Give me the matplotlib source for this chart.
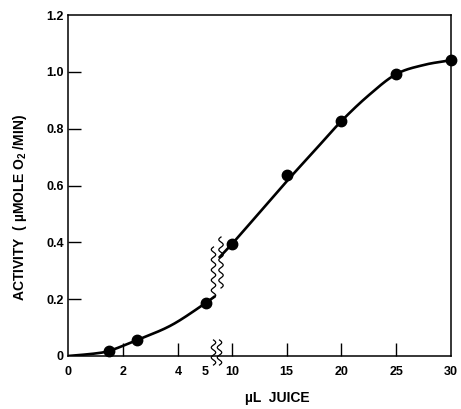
import numpy as np
import matplotlib
matplotlib.use('Agg')
import matplotlib.pyplot as plt

# --- data ---
juice_ul = [1.5, 2.5, 5, 10, 15, 20, 25, 30]
activity = [0.018, 0.056, 0.186, 0.394, 0.637, 0.827, 0.992, 1.041]

# hand-drawn smooth curve, two pieces either side of the axis break
curve_left_x = [0, 1, 1.5, 2.5, 3.75, 5, 5.35]
curve_left_y = [0, 0.009, 0.018, 0.056, 0.108, 0.186, 0.211]
curve_right_x = [8.8, 10, 15, 17.5, 20, 22.5, 25, 27.5, 30]
curve_right_y = [0.345, 0.394, 0.615, 0.721, 0.827, 0.918, 0.992, 1.024, 1.041]

xticks = [0, 2, 4, 5, 10, 15, 20, 25, 30]
xtick_labels = ['0', '2', '4', '5', '10', '15', '20', '25', '30']
yticks = [0, 0.2, 0.4, 0.6, 0.8, 1.0, 1.2]
ytick_labels = ['0', '0.2', '0.4', '0.6', '0.8', '1.0', '1.2']


# broken x axis: 0-5 stretched, 10-30 compressed
def fwd(x):
    x = np.asarray(x, dtype=float)
    return np.where(x <= 5.4, x,
                    np.where(x >= 8.8, 5.96 + (x - 10) * 0.398,
                             5.4 + (x - 5.4) * (0.082 / 3.4)))


def inv(u):
    u = np.asarray(u, dtype=float)
    return np.where(u <= 5.4, u,
                    np.where(u >= 5.482, 10 + (u - 5.96) / 0.398,
                             5.4 + (u - 5.4) * (3.4 / 0.082)))


def smooth(xk, yk, n=250):
    # cubic hermite through the knots, catmull-rom style slopes
    xk = np.asarray(xk, float)
    yk = np.asarray(yk, float)
    h = np.diff(xk)
    m = np.empty_like(yk)
    m[1:-1] = (yk[2:] - yk[:-2]) / (xk[2:] - xk[:-2])
    m[0] = (yk[1] - yk[0]) / h[0]
    m[-1] = (yk[-1] - yk[-2]) / h[-1]
    xs = np.linspace(xk[0], xk[-1], n)
    idx = np.clip(np.searchsorted(xk, xs) - 1, 0, len(h) - 1)
    t = (xs - xk[idx]) / h[idx]
    ys = ((2 * t**3 - 3 * t**2 + 1) * yk[idx] + (t**3 - 2 * t**2 + t) * h[idx] * m[idx]
          + (-2 * t**3 + 3 * t**2) * yk[idx + 1] + (t**3 - t**2) * h[idx] * m[idx + 1])
    return xs, ys


plt.rcParams['font.family'] = ['Liberation Sans', 'DejaVu Sans']
plt.rcParams['font.weight'] = 'bold'
plt.rcParams['mathtext.fontset'] = 'custom'
plt.rcParams['mathtext.bf'] = 'Liberation Sans:bold'
plt.rcParams['mathtext.rm'] = 'Liberation Sans:bold'

W, H = 461, 409
fig = plt.figure(figsize=(W / 100, H / 100), dpi=100)
ax = fig.add_axes([68 / W, (H - 356) / H, 383 / W, 341 / H])
ax.set_xscale('function', functions=(fwd, inv))
ax.set_xlim(0, 30)
ax.set_ylim(0, 1.2)

xl, yl = smooth(curve_left_x, curve_left_y)
xr, yr = smooth(curve_right_x, curve_right_y)
ax.plot(xl, yl, color='black', lw=1.9, solid_capstyle='butt')
ax.plot(xr, yr, color='black', lw=1.9, solid_capstyle='butt', clip_on=False)
ax.plot(juice_ul, activity, 'o', color='black', ms=7.5, clip_on=False, zorder=5)

# ticks
ax.set_xticks(xticks)
ax.set_xticklabels(xtick_labels)
ax.set_yticks(yticks)
ax.set_yticklabels(ytick_labels)
ax.minorticks_off()
ax.tick_params(axis='x', direction='in', length=9.5, width=1.0, pad=7, labelsize=9)
ax.tick_params(axis='y', direction='in', length=9.5, width=1.0, pad=3, labelsize=9)
for i, tk in enumerate(ax.xaxis.get_major_ticks()):
    if xticks[i] in (0, 5, 30):
        tk.tick1line.set_visible(False)
for i, tk in enumerate(ax.yaxis.get_major_ticks()):
    if yticks[i] in (0, 1.2):
        tk.tick1line.set_visible(False)
for s in ax.spines.values():
    s.set_linewidth(1.1)

# break marks (axes fraction)
def squiggle(xc, y0, y1, waves):
    yy = np.linspace(y0, y1, 120)
    xx = xc + (2.2 / 383) * np.sin((yy - y0) / (y1 - y0) * waves * 2 * np.pi)
    ax.plot(xx, yy, color='black', lw=0.9, transform=ax.transAxes, clip_on=False)

squiggle((213.5 - 68) / 383, (356 - 298) / 341, (356 - 247) / 341, 5)
squiggle((221 - 68) / 383, (356 - 288) / 341, (356 - 237) / 341, 5)
squiggle((213.5 - 68) / 383, (356 - 365) / 341, (356 - 340) / 341, 2.5)
squiggle((219.5 - 68) / 383, (356 - 365) / 341, (356 - 340) / 341, 2.5)

fig.text(20 / W, 1 - 207 / H, r'ACTIVITY  ( µMOLE O$_\mathbf{2}$ /MIN)', rotation=90,
         ha='center', va='center', fontsize=10, fontweight='bold')
fig.text(277 / W, 1 - 398 / H, 'µL  JUICE', ha='center', va='center',
         fontsize=10, fontweight='bold')

fig.savefig('out.png', dpi=100)
